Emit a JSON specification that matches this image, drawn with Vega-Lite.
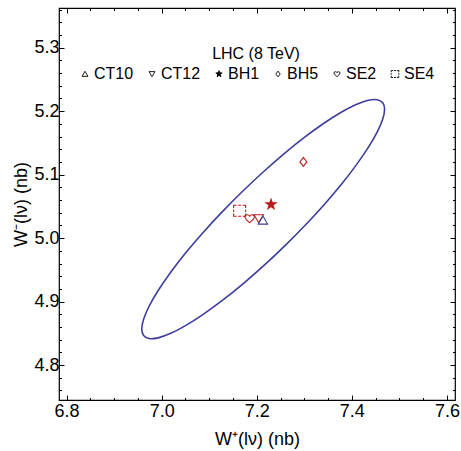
{
  "$schema": "https://vega.github.io/schema/vega-lite/v6.json",
  "width": 396,
  "height": 392,
  "autosize": {"type": "none"},
  "padding": {"left": 59, "top": 8, "right": 6, "bottom": 51},
  "config": {
    "font": "Liberation Sans",
    "view": {"stroke": "black", "strokeWidth": 1.2},
    "axis": {"grid": false, "domain": false, "tickColor": "black", "tickWidth": 1, "labelColor": "black", "titleColor": "black", "labelFontSize": 18, "titleFontSize": 18, "titleFontWeight": "normal", "labelOverlap": false, "labelFlush": false}
  },
  "datasets": {
    "ellipse": [
      {"i": 0, "x": 7.4689, "y": 5.2032}, {"i": 1, "x": 7.4650, "y": 5.2134}, {"i": 2, "x": 7.4535, "y": 5.2181},
      {"i": 3, "x": 7.4347, "y": 5.2171}, {"i": 4, "x": 7.4091, "y": 5.2104}, {"i": 5, "x": 7.3777, "y": 5.1982},
      {"i": 6, "x": 7.3412, "y": 5.1809}, {"i": 7, "x": 7.3008, "y": 5.1590}, {"i": 8, "x": 7.2578, "y": 5.1332},
      {"i": 9, "x": 7.2135, "y": 5.1042}, {"i": 10, "x": 7.1692, "y": 5.0730}, {"i": 11, "x": 7.1262, "y": 5.0405},
      {"i": 12, "x": 7.0858, "y": 5.0077}, {"i": 13, "x": 7.0493, "y": 4.9756}, {"i": 14, "x": 7.0179, "y": 4.9450},
      {"i": 15, "x": 6.9923, "y": 4.9171}, {"i": 16, "x": 6.9735, "y": 4.8927}, {"i": 17, "x": 6.9620, "y": 4.8723},
      {"i": 18, "x": 6.9581, "y": 4.8568}, {"i": 19, "x": 6.9620, "y": 4.8466}, {"i": 20, "x": 6.9735, "y": 4.8419},
      {"i": 21, "x": 6.9923, "y": 4.8429}, {"i": 22, "x": 7.0179, "y": 4.8496}, {"i": 23, "x": 7.0493, "y": 4.8618},
      {"i": 24, "x": 7.0858, "y": 4.8791}, {"i": 25, "x": 7.1262, "y": 4.9010}, {"i": 26, "x": 7.1692, "y": 4.9268},
      {"i": 27, "x": 7.2135, "y": 4.9558}, {"i": 28, "x": 7.2578, "y": 4.9870}, {"i": 29, "x": 7.3008, "y": 5.0195},
      {"i": 30, "x": 7.3412, "y": 5.0523}, {"i": 31, "x": 7.3777, "y": 5.0844}, {"i": 32, "x": 7.4091, "y": 5.1150},
      {"i": 33, "x": 7.4347, "y": 5.1429}, {"i": 34, "x": 7.4535, "y": 5.1673}, {"i": 35, "x": 7.4650, "y": 5.1877}
    ],
    "pts": [
      {"pdf": "SE4", "x": 7.164, "y": 5.043},
      {"pdf": "SE2", "x": 7.185, "y": 5.031},
      {"pdf": "CT12", "x": 7.204, "y": 5.031},
      {"pdf": "CT10", "x": 7.213, "y": 5.028},
      {"pdf": "BH1", "x": 7.230, "y": 5.053},
      {"pdf": "BH5", "x": 7.298, "y": 5.120}
    ]
  },
  "layer": [
    {
      "data": {"name": "ellipse"},
      "mark": {"type": "line", "interpolate": "cardinal-closed", "color": "#3d3d9e", "strokeWidth": 1.6},
      "encoding": {
        "x": {"field": "x", "type": "quantitative", "scale": {"domain": [6.784, 7.617], "nice": false, "zero": false},
          "axis": {"orient": "bottom", "values": [6.8, 6.85, 6.9, 6.95, 7.0, 7.05, 7.1, 7.15, 7.2, 7.25, 7.3, 7.35, 7.4, 7.45, 7.5, 7.55, 7.6],
            "labelExpr": "abs(datum.value*5 - round(datum.value*5)) < 0.001 ? format(datum.value, '.1f') : ''",
            "tickSize": {"condition": {"test": "abs(datum.value*5 - round(datum.value*5)) < 0.001", "value": -5}, "value": -2.5},
            "labelPadding": 7, "title": "W⁺(lν) (nb)", "titlePadding": 8}},
        "y": {"field": "y", "type": "quantitative", "scale": {"domain": [4.745, 5.3625], "nice": false, "zero": false},
          "axis": {"orient": "left", "values": [4.76, 4.78, 4.8, 4.82, 4.84, 4.86, 4.88, 4.9, 4.92, 4.94, 4.96, 4.98, 5.0, 5.02, 5.04, 5.06, 5.08, 5.1, 5.12, 5.14, 5.16, 5.18, 5.2, 5.22, 5.24, 5.26, 5.28, 5.3, 5.32, 5.34, 5.36],
            "labelExpr": "abs(datum.value*10 - round(datum.value*10)) < 0.001 ? format(datum.value, '.1f') : ''",
            "tickSize": {"condition": {"test": "abs(datum.value*10 - round(datum.value*10)) < 0.001", "value": -5}, "value": -2.5},
            "labelPadding": 5, "title": "W⁻(lν) (nb)", "titlePadding": 3}},
        "order": {"field": "i", "type": "quantitative"}
      }
    },
    {
      "data": {"name": "pts"},
      "mark": {"type": "point", "size": 0, "color": "black", "filled": false, "strokeWidth": 0.9, "opacity": 1},
      "encoding": {
        "x": {"field": "x", "type": "quantitative", "axis": null},
        "y": {"field": "y", "type": "quantitative", "axis": null},
        "shape": {"field": "pdf", "type": "nominal",
          "scale": {"domain": ["CT10", "CT12", "BH1", "BH5", "SE2", "SE4"],
            "range": [
              "M0,-0.85L0.93,0.75L-0.93,0.75Z",
              "M-0.93,-0.75L0.93,-0.75L0,0.85Z",
              "M0,-1.05L0.247,-0.34L0.999,-0.325L0.399,0.13L0.617,0.85L0,0.42L-0.617,0.85L-0.399,0.13L-0.999,-0.325L-0.247,-0.34ZM0,-0.714L0.168,-0.231L0.679,-0.221L0.271,0.088L0.42,0.578L0,0.286L-0.42,0.578L-0.271,0.088L-0.679,-0.221L-0.168,-0.231ZM0,-0.378L0.089,-0.122L0.36,-0.117L0.144,0.047L0.222,0.306L0,0.151L-0.222,0.306L-0.144,0.047L-0.36,-0.117L-0.089,-0.122ZM0,-0.1L0.1,0.05L-0.1,0.05Z",
              "M0,-0.9L0.7,0L0,0.9L-0.7,0Z",
              "M0,0.85C-0.3,0.55 -0.95,0.1 -0.95,-0.35C-0.95,-0.75 -0.35,-0.9 0,-0.45C0.35,-0.9 0.95,-0.75 0.95,-0.35C0.95,0.1 0.3,0.55 0,0.85Z",
              "M-0.6,-1.1L-1.2,-1.1L-1.2,-0.55M-0.3,-1.1L0.3,-1.1M0.6,-1.1L1.2,-1.1L1.2,-0.55M1.2,-0.25L1.2,0.25M1.2,0.55L1.2,1.1L0.6,1.1M0.3,1.1L-0.3,1.1M-0.6,1.1L-1.2,1.1L-1.2,0.55M-1.2,0.25L-1.2,-0.25"
            ]},
          "legend": {"title": "LHC (8 TeV)", "orient": "none", "legendX": 18, "legendY": 38, "direction": "horizontal", "columns": 6,
            "titleAnchor": "middle", "titleOrient": "top", "titleFontSize": 16, "titleFontWeight": "normal", "titleColor": "black", "titlePadding": 4,
            "labelFontSize": 16, "labelColor": "black", "labelOffset": 1, "columnPadding": 10, "symbolSize": 40,
            "symbolStrokeColor": "black", "symbolStrokeWidth": 0.9,
            "encoding": {"symbols": {"stroke": {"value": "black"}}}}}
      }
    },
    {
      "data": {"name": "pts"},
      "mark": {"type": "point", "size": 100, "strokeWidth": 1.1, "opacity": 1},
      "encoding": {
        "x": {"field": "x", "type": "quantitative",
          "axis": {"orient": "top", "values": [6.8, 6.85, 6.9, 6.95, 7.0, 7.05, 7.1, 7.15, 7.2, 7.25, 7.3, 7.35, 7.4, 7.45, 7.5, 7.55, 7.6],
            "labels": false, "title": null,
            "tickSize": {"condition": {"test": "abs(datum.value*5 - round(datum.value*5)) < 0.001", "value": -5}, "value": -2.5}}},
        "y": {"field": "y", "type": "quantitative",
          "axis": {"orient": "right", "values": [4.76, 4.78, 4.8, 4.82, 4.84, 4.86, 4.88, 4.9, 4.92, 4.94, 4.96, 4.98, 5.0, 5.02, 5.04, 5.06, 5.08, 5.1, 5.12, 5.14, 5.16, 5.18, 5.2, 5.22, 5.24, 5.26, 5.28, 5.3, 5.32, 5.34, 5.36],
            "labels": false, "title": null,
            "tickSize": {"condition": {"test": "abs(datum.value*10 - round(datum.value*10)) < 0.001", "value": -5}, "value": -2.5}}},
        "shape": {"field": "pdf", "type": "nominal"},
        "stroke": {"condition": {"test": "datum.pdf === 'CT10'", "value": "#3d3d9e"}, "value": "#b91c1c"},
        "fill": {"condition": {"test": "datum.pdf === 'BH1'", "value": "#b01010"}, "value": "transparent"}
      }
    }
  ],
  "resolve": {"axis": {"x": "independent", "y": "independent"}}
}
